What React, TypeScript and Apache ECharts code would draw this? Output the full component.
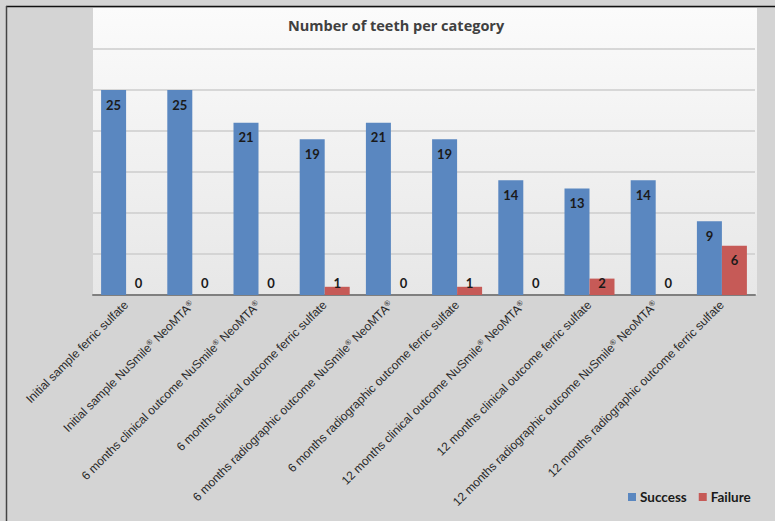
import React, { useEffect, useRef } from "react";
import * as echarts from "echarts";

const categories = [
  "Initial sample ferric sulfate",
  "Initial sample NuSmile® NeoMTA®",
  "6 months clinical outcome NuSmile® NeoMTA®",
  "6 months clinical outcome ferric sulfate",
  "6 months radiographic outcome NuSmile® NeoMTA®",
  "6 months radiographic outcome ferric sulfate",
  "12 months clinical outcome NuSmile® NeoMTA®",
  "12 months clinical outcome ferric sulfate",
  "12 months radiographic outcome NuSmile® NeoMTA®",
  "12 months radiographic outcome ferric sulfate",
];
const success = [25, 25, 21, 19, 21, 19, 14, 13, 14, 9];
const failure = [0, 0, 0, 1, 0, 1, 0, 2, 0, 6];
const seriesNames = ["Success", "Failure"];
const titleText = "Number of teeth per category";

export default function App() {
  const ref = useRef<HTMLDivElement>(null);
  useEffect(() => {
    document.body.style.margin = "0";
    const chart = echarts.init(ref.current!, null, { renderer: "svg" });
    const labelBase = {
      show: true,
      fontFamily: "Lato",
      fontWeight: "bold" as const,
      fontSize: 13,
      color: "#1a1a1a",
    };
    const mkData = (vals: number[]) =>
      vals.map((v) => ({
        value: v,
        label:
          v < 3
            ? { position: "insideBottom", distance: 6 }
            : { position: "insideTop", distance: 8 },
      }));
    chart.setOption({
      animation: false,
      backgroundColor: "#d4d4d4",
      graphic: [
        {
          type: "rect",
          z: -10,
          shape: { x: 93, y: 8, width: 664, height: 287 },
          style: {
            fill: new echarts.graphic.LinearGradient(0, 0, 0, 1, [
              { offset: 0, color: "#fbfbfb" },
              { offset: 1, color: "#e7e7e7" },
            ]),
          },
          silent: true,
        },
        {
          type: "line",
          shape: { x1: 6, y1: 6.5, x2: 775, y2: 6.5 },
          style: { stroke: "#111", lineWidth: 1.5 },
          silent: true,
        },
        {
          type: "line",
          shape: { x1: 6.5, y1: 6, x2: 6.5, y2: 521 },
          style: { stroke: "#444", lineWidth: 1.5 },
          silent: true,
        },
      ],
      title: {
        text: titleText,
        left: 283,
        top: 13,
        textStyle: {
          fontFamily: "Open Sans",
          fontWeight: "bold",
          fontSize: 14.5,
          color: "#404040",
        },
      },
      legend: {
        left: 623,
        top: 485,
        icon: "rect",
        itemWidth: 8,
        itemHeight: 8,
        itemGap: 12,
        data: seriesNames,
        textStyle: {
          fontFamily: "Lato",
          fontWeight: "bold",
          fontSize: 13.5,
          color: "#1a1a1a",
          padding: [0, 0, 0, -1],
        },
      },
      grid: { left: 93, right: 20, top: 49, bottom: 226, containLabel: false },
      xAxis: {
        type: "category",
        data: categories,
        axisLine: { lineStyle: { color: "#7f7f7f", width: 2 } },
        axisTick: { show: false },
        axisLabel: {
          rotate: 45,
          interval: 0,
          margin: 8,
          fontFamily: "Liberation Sans",
          fontSize: 12,
          color: "#2a2a2a",
          formatter: (v: string) => v.replace(/®/g, "{s|®}"),
          rich: {
            s: { fontSize: 7.5, fontFamily: "Liberation Sans", color: "#2a2a2a", verticalAlign: "top", padding: [0, 0, 5, 0] },
          },
        },
      },
      yAxis: {
        type: "value",
        min: 0,
        max: 30,
        interval: 5,
        axisLabel: { show: false },
        axisLine: { show: false },
        axisTick: { show: false },
        splitLine: { lineStyle: { color: "#cdcdcd", width: 1.5 } },
      },
      series: [
        {
          name: seriesNames[0],
          type: "bar",
          barWidth: 25,
          barGap: "0%",
          data: mkData(success),
          itemStyle: { color: "#5a87c0" },
          label: labelBase,
        },
        {
          name: seriesNames[1],
          type: "bar",
          barWidth: 25,
          data: mkData(failure),
          itemStyle: { color: "#c65a57" },
          label: labelBase,
        },
      ],
    });
    return () => chart.dispose();
  }, []);
  return <div ref={ref} style={{ width: 775, height: 521 }} />;
}
